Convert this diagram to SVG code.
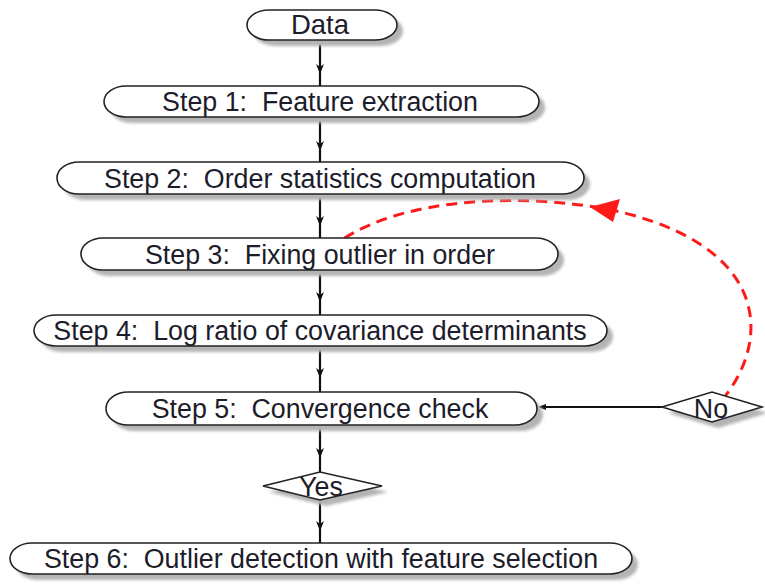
<svg xmlns="http://www.w3.org/2000/svg" width="765" height="587" viewBox="0 0 765 587">
<defs>
<style>
.sh{fill:#b4b4b4;stroke:none}
.nd{fill:#fff;stroke:#222;stroke-width:1.6}
.tx{font-family:"Liberation Sans",Arial,sans-serif;font-size:26.8px;fill:#1c1c2a;text-anchor:middle;white-space:pre}
.ln{stroke:#111;stroke-width:2.2;fill:none}
.ah{fill:#111}
</style>
<filter id="blur" x="-10%" y="-30%" width="120%" height="160%"><feGaussianBlur stdDeviation="1.5"/></filter>
</defs>
<rect width="765" height="587" fill="#fff"/>
<g id="connectors">
<line class="ln" x1="320" y1="40" x2="320" y2="86"/>
<line class="ln" x1="320" y1="117" x2="320" y2="162"/>
<line class="ln" x1="320" y1="194" x2="320" y2="238"/>
<line class="ln" x1="320" y1="270" x2="320" y2="315"/>
<line class="ln" x1="320" y1="346" x2="320" y2="392"/>
<line class="ln" x1="320" y1="425" x2="320" y2="472"/>
<line class="ln" x1="320" y1="500" x2="320" y2="543"/>
<path class="ah" d="M316,64 L320,74 L324,64 L320,67 Z"/>
<path class="ah" d="M316,141 L320,151 L324,141 L320,144 Z"/>
<path class="ah" d="M316,216 L320,226 L324,216 L320,219 Z"/>
<path class="ah" d="M316,292 L320,302 L324,292 L320,295 Z"/>
<path class="ah" d="M316,368 L320,378 L324,368 L320,371 Z"/>
<path class="ah" d="M316,448 L320,458 L324,448 L320,451 Z"/>
<path class="ah" d="M316,521 L320,531 L324,521 L320,524 Z"/>
<line x1="662" y1="407" x2="540" y2="407" stroke="#111" stroke-width="2"/>
<path class="ah" d="M538,407 L546,404 L546,410 Z"/>
<path d="M722,400 C772,340 770,245 612,210 C520,192 385,196 324,254" fill="none" stroke="#ff1a1a" stroke-width="3" stroke-dasharray="11 7"/>
<path d="M590,207 L620,199 L613,222 Z" fill="#ff1a1a"/>
</g>
<g id="data">
<rect class="sh" x="253" y="16" width="150" height="30" rx="22" ry="15" filter="url(#blur)"/>
<rect class="nd" x="247" y="10" width="150" height="30" rx="22" ry="15"/>
<text class="tx" x="320" y="34" style="font-size:27.5px">Data</text>
</g>
<g id="step1">
<rect class="sh" x="110" y="92" width="435" height="31" rx="22" ry="15.5" filter="url(#blur)"/>
<rect class="nd" x="104" y="86" width="435" height="31" rx="22" ry="15.5"/>
<text class="tx" x="320" y="111" xml:space="preserve">Step 1:  Feature extraction</text>
</g>
<g id="step2">
<rect class="sh" x="63" y="168" width="527" height="32" rx="22" ry="16" filter="url(#blur)"/>
<rect class="nd" x="57" y="162" width="527" height="32" rx="22" ry="16"/>
<text class="tx" x="320" y="188" xml:space="preserve">Step 2:  Order statistics computation</text>
</g>
<g id="step3">
<rect class="sh" x="87" y="244" width="477" height="32" rx="22" ry="16" filter="url(#blur)"/>
<rect class="nd" x="81" y="238" width="477" height="32" rx="22" ry="16"/>
<text class="tx" x="320" y="264" xml:space="preserve">Step 3:  Fixing outlier in order</text>
</g>
<g id="step4">
<rect class="sh" x="40" y="321" width="573" height="31" rx="22" ry="15.5" filter="url(#blur)"/>
<rect class="nd" x="34" y="315" width="573" height="31" rx="22" ry="15.5"/>
<text class="tx" x="320" y="340" xml:space="preserve">Step 4:  Log ratio of covariance determinants</text>
</g>
<g id="step5">
<rect class="sh" x="112" y="398" width="431" height="33" rx="22" ry="16.5" filter="url(#blur)"/>
<rect class="nd" x="106" y="392" width="431" height="33" rx="22" ry="16.5"/>
<text class="tx" x="320" y="418" xml:space="preserve">Step 5:  Convergence check</text>
</g>
<g id="no">
<path class="sh" d="M668,413 L718,398 L768,413 L718,428 Z" filter="url(#blur)"/>
<path class="nd" d="M662,407 L712,392 L762,407 L712,422 Z"/>
<text class="tx" x="711" y="418">No</text>
</g>
<g id="yes">
<path class="sh" d="M269,492 L326,478 L388,492 L326,506 Z" filter="url(#blur)"/>
<path class="nd" d="M263,486 L320,472 L382,486 L320,500 Z"/>
<text class="tx" x="321" y="496">Yes</text>
</g>
<g id="step6">
<rect class="sh" x="16" y="549" width="622" height="31" rx="22" ry="15.5" filter="url(#blur)"/>
<rect class="nd" x="10" y="543" width="622" height="31" rx="22" ry="15.5"/>
<text class="tx" x="321" y="568" xml:space="preserve">Step 6:  Outlier detection with feature selection</text>
</g>
</svg>
